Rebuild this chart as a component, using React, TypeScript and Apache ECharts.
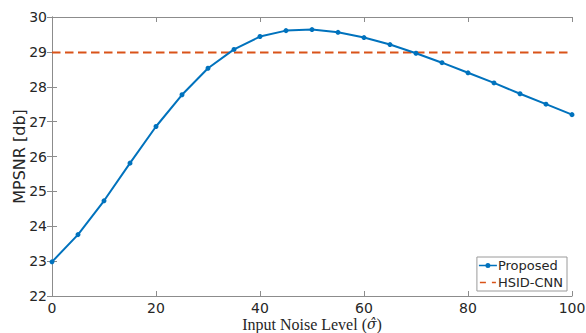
import React, { useEffect, useRef } from "react";
import * as echarts from "echarts";

const noiseLevels = [0, 5, 10, 15, 20, 25, 30, 35, 40, 45, 50, 55, 60, 65, 70, 75, 80, 85, 90, 95, 100];
const proposed = [22.98, 23.76, 24.73, 25.81, 26.86, 27.77, 28.53, 29.07, 29.44, 29.61, 29.64, 29.56, 29.41, 29.21, 28.96, 28.69, 28.4, 28.11, 27.8, 27.5, 27.2];
const hsidX = [0, 100];
const hsidValue = 28.98;

const axisColor = "#8c8c8c";
const textColor = "#262626";

const proposedIcon =
  "path://M0,1.7 L7,1.7 L7,3.3 L0,3.3 Z M11,1.7 L18,1.7 L18,3.3 L11,3.3 Z M6.5,2.5 A2.5,2.5 0 1 1 11.5,2.5 A2.5,2.5 0 1 1 6.5,2.5 Z";
const hsidIcon =
  "path://M0,0 L0.01,0 L0,0.01 Z M18,5 L17.99,5 L18,4.99 Z M1,1.7 L7,1.7 L7,3.3 L1,3.3 Z M13,1.7 L17,1.7 L17,3.3 L13,3.3 Z";

export default function App() {
  const ref = useRef<HTMLDivElement>(null);
  useEffect(() => {
    if (!ref.current) return;
    const chart = echarts.init(ref.current, null, { renderer: "svg" });
    const tickStyle = { inside: true, length: 5, lineStyle: { color: axisColor, width: 1 } };
    const lineStyleAxis = { show: true, lineStyle: { color: axisColor, width: 1 } };
    chart.setOption({
      animation: false,
      backgroundColor: "#ffffff",
      grid: { left: 52, right: 14, top: 17, bottom: 37, containLabel: false, outerBoundsMode: "none" },
      xAxis: [
        {
          type: "value",
          min: 0,
          max: 100,
          interval: 20,
          position: "bottom",
          axisLine: lineStyleAxis,
          axisTick: tickStyle,
          splitLine: { show: false },
          axisLabel: { color: textColor, fontSize: 14, margin: 5, fontFamily: "DejaVu Sans" },
          name: "Input Noise Level ({i|σ̂})",
          nameLocation: "middle",
          nameGap: 21,
          nameMoveOverlap: false,
          nameTextStyle: {
            fontFamily: "Liberation Serif",
            fontSize: 16,
            lineHeight: 14,
            color: textColor,
            rich: { i: { fontFamily: "DejaVu Serif", fontStyle: "italic", fontSize: 14, lineHeight: 14, color: textColor } },
          },
        },
        {
          type: "value",
          min: 0,
          max: 100,
          interval: 20,
          position: "top",
          axisLine: lineStyleAxis,
          axisTick: tickStyle,
          splitLine: { show: false },
          axisLabel: { show: false },
        },
      ],
      yAxis: [
        {
          type: "value",
          min: 22,
          max: 30,
          interval: 1,
          position: "left",
          axisLine: lineStyleAxis,
          axisTick: tickStyle,
          splitLine: { show: false },
          axisLabel: { color: textColor, fontSize: 14, margin: 5, fontFamily: "DejaVu Sans" },
          name: "MPSNR [db]",
          nameLocation: "middle",
          nameGap: 25,
          nameMoveOverlap: false,
          nameTextStyle: { fontFamily: "DejaVu Sans", fontSize: 16, color: textColor },
        },
        {
          type: "value",
          min: 22,
          max: 30,
          interval: 1,
          position: "right",
          axisLine: lineStyleAxis,
          axisTick: tickStyle,
          splitLine: { show: false },
          axisLabel: { show: false },
        },
      ],
      legend: {
        orient: "vertical",
        right: 19,
        bottom: 42,
        backgroundColor: "#ffffff",
        borderColor: "#9a9a9a",
        borderWidth: 1,
        borderRadius: 0,
        padding: [1, 4, 1, 2],
        itemGap: 2,
        itemWidth: 18,
        itemHeight: 5,
        itemStyle: { borderWidth: 0 },
        textStyle: { color: textColor, fontSize: 13, lineHeight: 15, fontFamily: "DejaVu Sans", padding: [0, 0, 0, -4] },
        data: [
          { name: "Proposed", icon: proposedIcon },
          { name: "HSID-CNN", icon: hsidIcon },
        ],
      },
      series: [
        {
          name: "Proposed",
          type: "line",
          xAxisIndex: 0,
          yAxisIndex: 0,
          data: noiseLevels.map((x, i) => [x, proposed[i]]),
          symbol: "circle",
          symbolSize: 5,
          showSymbol: true,
          itemStyle: { color: "#0072BD" },
          lineStyle: { color: "#0072BD", width: 2 },
          z: 3,
        },
        {
          name: "HSID-CNN",
          type: "line",
          xAxisIndex: 0,
          yAxisIndex: 0,
          data: hsidX.map((x) => [x, hsidValue]),
          symbol: "none",
          itemStyle: { color: "#D95319" },
          lineStyle: { color: "#D95319", width: 2, type: [8.5, 4.5] },
          z: 2,
        },
      ],
    });
    return () => chart.dispose();
  }, []);
  return <div ref={ref} style={{ width: 586, height: 333, position: "absolute", left: 0, top: 0 }} />;
}
